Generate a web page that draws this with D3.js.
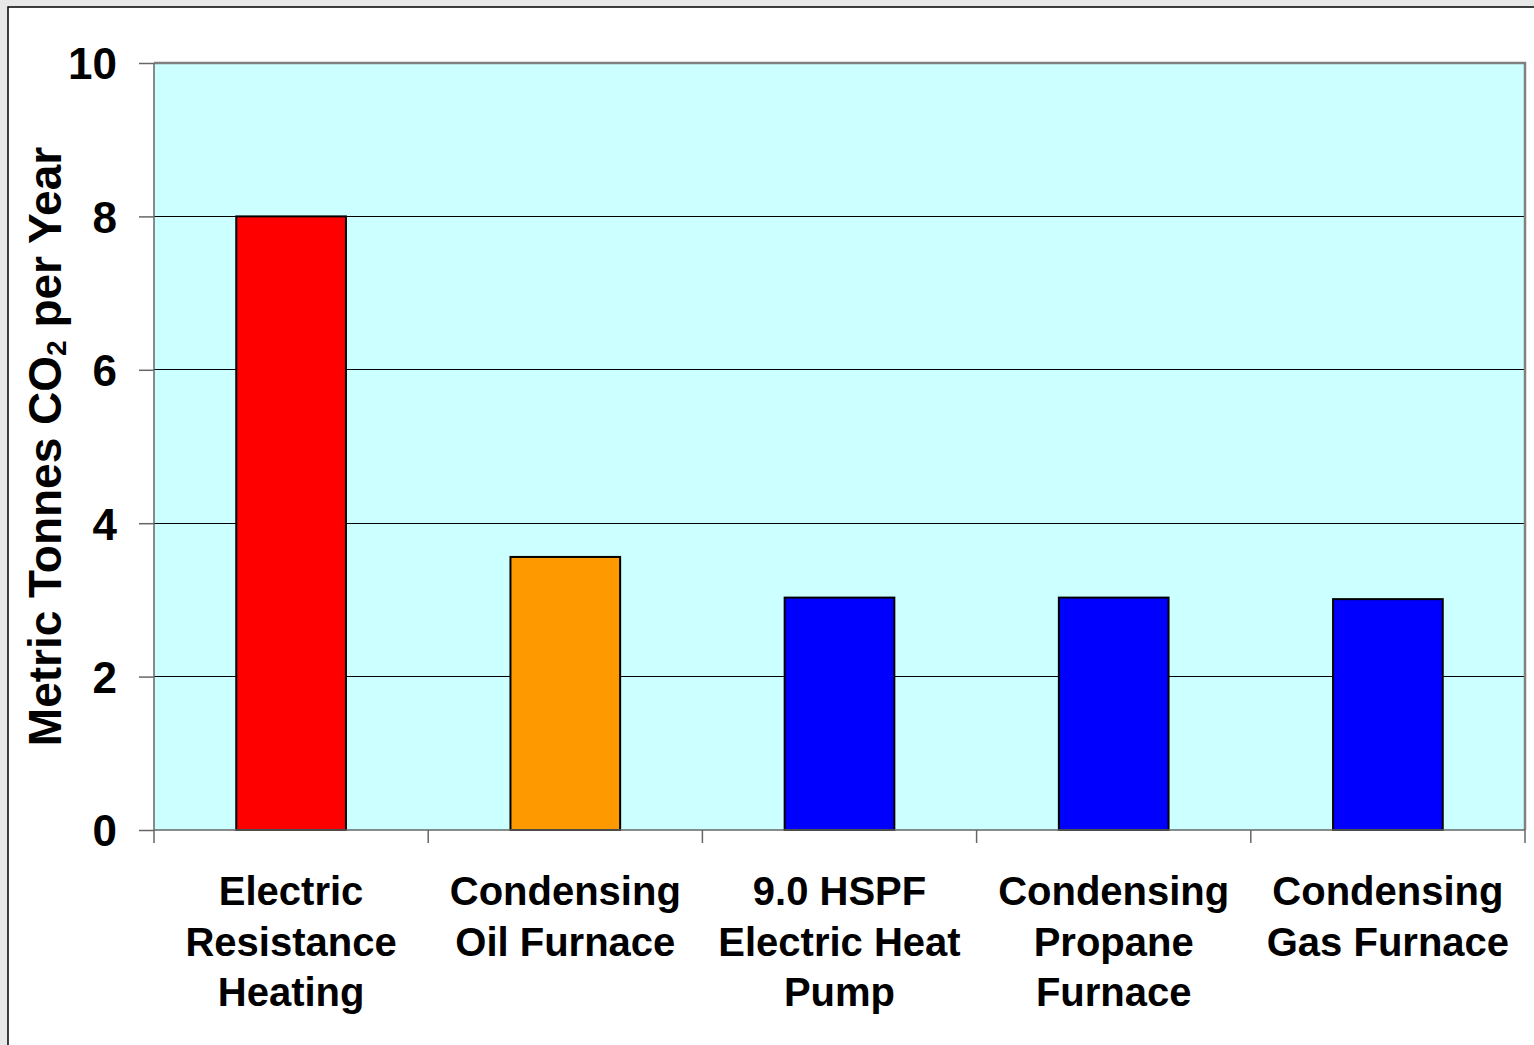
<!DOCTYPE html>
<html>
<head>
<meta charset="utf-8">
<script src="https://cdn.jsdelivr.net/npm/d3@7"></script>
<style>
  body { margin: 0; background: #e8e8e8; }
  svg { display: block; font-family: "Liberation Sans", Arial, sans-serif; }
</style>
</head>
<body>
<div id="chart"></div>
<script>
// chart data
var categories = ["Electric Resistance Heating", "Condensing Oil Furnace", "9.0 HSPF Electric Heat Pump", "Condensing Propane Furnace", "Condensing Gas Furnace"]
var labelLines = [["Electric", "Resistance", "Heating"], ["Condensing", "Oil Furnace"], ["9.0 HSPF", "Electric Heat", "Pump"], ["Condensing", "Propane", "Furnace"], ["Condensing", "Gas Furnace"]]
var values = [8.0, 3.56, 3.03, 3.03, 3.01]
var barColors = ["#ff0000", "#ff9900", "#0000ff", "#0000ff", "#0000ff"]
var yTicks = [0, 2, 4, 6, 8, 10]

var W = 1534, H = 1045
var pLeft = 154, pRight = 1525, pTop = 63, pBottom = 830

var svg = d3.select("#chart").append("svg")
    .attr("width", W)
    .attr("height", H)

// outer white frame
svg.append("rect")
    .attr("x", 8).attr("y", 7)
    .attr("width", W + 20).attr("height", H + 20)
    .attr("fill", "#fff")
    .attr("stroke", "#000")
    .attr("stroke-width", 1.5)

var xs = d3.scaleBand().domain(categories).range([pLeft, pRight]).padding(0)
var ys = d3.scaleLinear().domain([0, 10]).range([pBottom, pTop])

// plot background
svg.append("rect")
    .attr("x", pLeft).attr("y", pTop)
    .attr("width", pRight - pLeft).attr("height", pBottom - pTop)
    .attr("fill", "#ccffff")

// gridlines
svg.append("g").selectAll("line")
    .data(yTicks.filter(d => d > 0 && d < 10))
    .enter().append("line")
    .attr("x1", pLeft).attr("x2", pRight)
    .attr("y1", d => ys(d)).attr("y2", d => ys(d))
    .attr("stroke", "#000").attr("stroke-width", 1)
    .attr("shape-rendering", "crispEdges")

// plot border top/right
svg.append("path")
    .attr("d", "M" + pLeft + "," + pTop + "H" + pRight + "V" + pBottom)
    .attr("fill", "none").attr("stroke", "#808080").attr("stroke-width", 2.5)

// bars
var bw = xs.bandwidth()
svg.append("g").selectAll("rect")
    .data(categories)
    .enter().append("rect")
    .attr("x", d => xs(d) + bw * 0.3)
    .attr("width", bw * 0.4)
    .attr("y", (d, i) => ys(values[i]))
    .attr("height", (d, i) => ys(0) - ys(values[i]))
    .attr("fill", (d, i) => barColors[i])
    .attr("stroke", "#000")
    .attr("stroke-width", 2)

// y axis
var yAxis = svg.append("g")
    .attr("transform", "translate(" + pLeft + ",0)")
    .call(d3.axisLeft(ys).tickValues(yTicks).tickSize(15).tickPadding(22).tickFormat(d3.format("d")))
yAxis.selectAll("path, line").attr("stroke", "#666").attr("stroke-width", 1.5)
yAxis.select(".domain").attr("d", "M0," + pTop + "V" + pBottom)
yAxis.selectAll("text")
    .style("font-size", "44px").style("font-weight", "bold")
    .attr("fill", "#000")
    .attr("dy", "0.36em")

// x axis (ticks at band edges)
var xAxis = svg.append("g")
    .attr("transform", "translate(0," + pBottom + ")")
xAxis.append("line")
    .attr("x1", pLeft).attr("x2", pRight)
    .attr("stroke", "#666").attr("stroke-width", 1.5)
xAxis.selectAll(".tick")
    .data(categories.concat(["end"]))
    .enter().append("line")
    .attr("x1", (d, i) => i < categories.length ? xs(d) : pRight)
    .attr("x2", (d, i) => i < categories.length ? xs(d) : pRight)
    .attr("y1", 0).attr("y2", 13)
    .attr("stroke", "#666").attr("stroke-width", 1.5)

// category labels
var labels = svg.append("g").selectAll("text")
    .data(categories)
    .enter().append("text")
    .attr("text-anchor", "middle")
    .style("font-size", "40px").style("font-weight", "bold")
    .attr("fill", "#000")
labels.each(function(d, i) {
    var t = d3.select(this)
    labelLines[i].forEach(function(line, j) {
        t.append("tspan")
            .attr("x", xs(d) + bw / 2)
            .attr("y", 905 + j * 50.5)
            .text(line)
    })
})

// y label
var ylab = svg.append("text")
    .attr("text-anchor", "middle")
    .attr("transform", "translate(61," + ((pTop + pBottom) / 2) + ") rotate(-90)")
    .style("font-size", "46px").style("font-weight", "bold")
    .attr("fill", "#000")
ylab.append("tspan").text("Metric Tonnes CO")
ylab.append("tspan").attr("dy", 5).style("font-size", "28px").text("2")
ylab.append("tspan").attr("dy", -5).text(" per Year")
</script>
</body>
</html>
